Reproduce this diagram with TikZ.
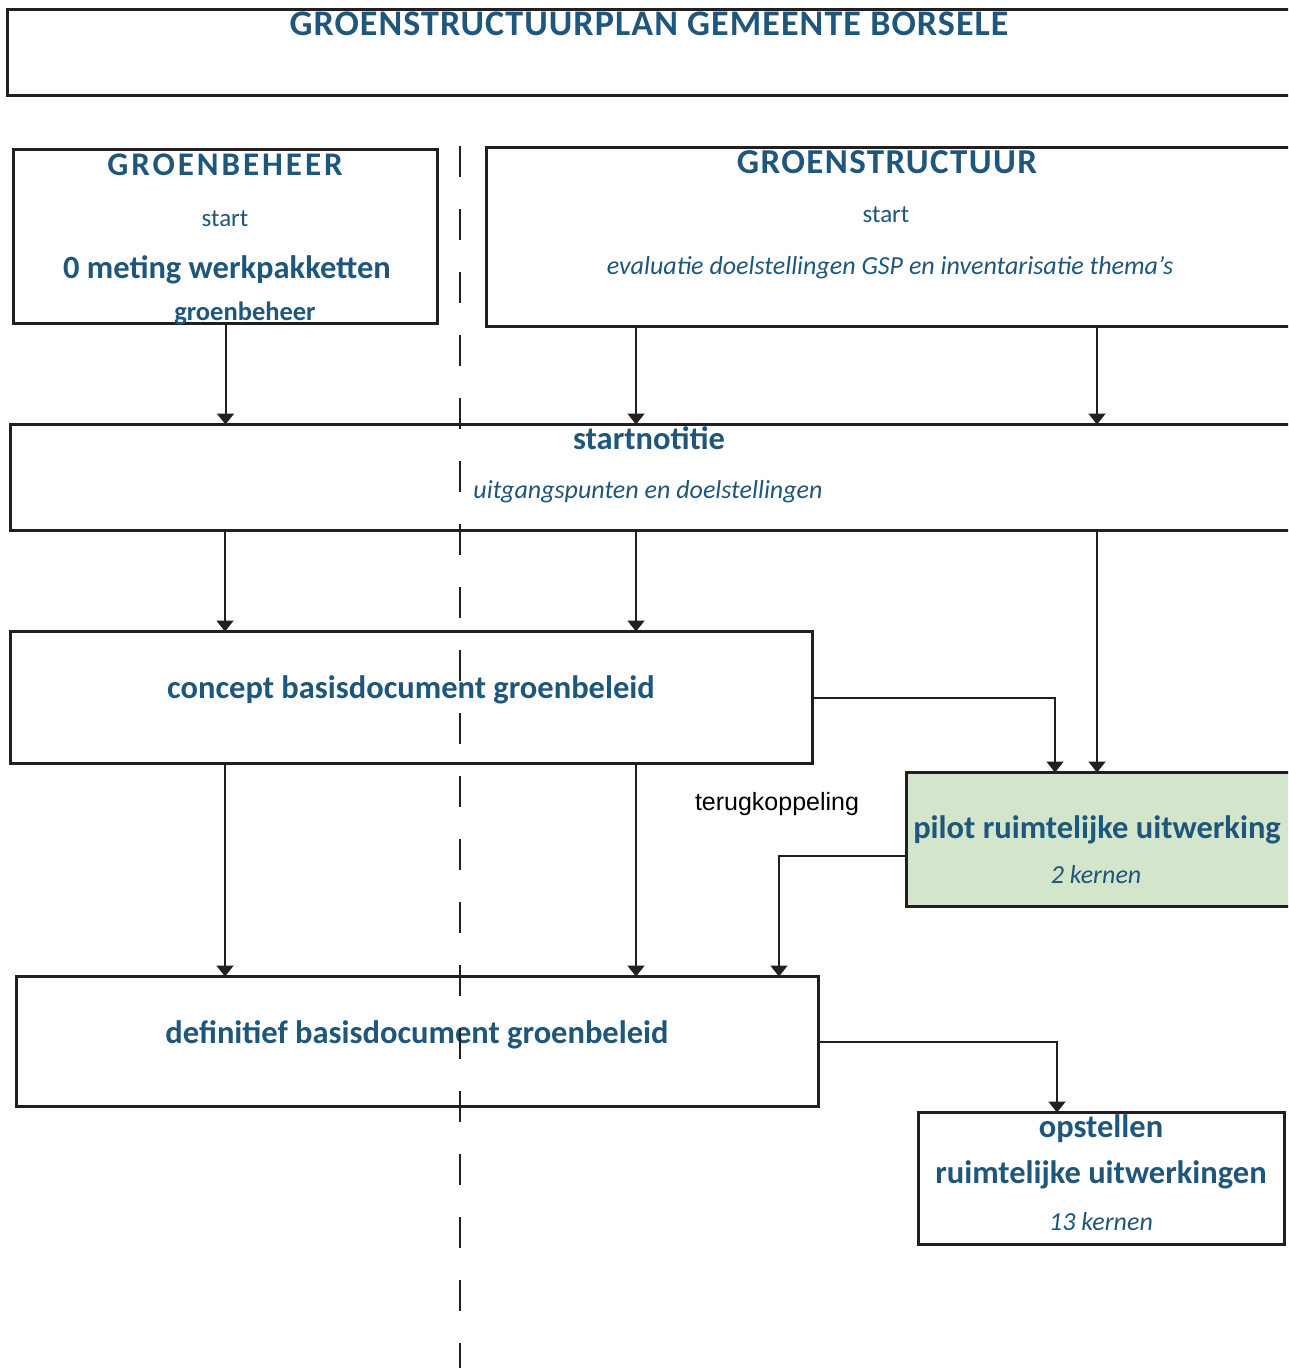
\documentclass[tikz,border=0pt]{standalone}
\usepackage{fontspec}
\setmainfont{Carlito}
\newfontfamily\labfont{Liberation Sans}
\usetikzlibrary{arrows.meta,calc}
\definecolor{gblue}{RGB}{31,86,123}
\definecolor{pgreen}{RGB}{211,229,202}
\definecolor{lineblack}{RGB}{35,31,32}
\newcommand{\fs}[1]{\fontsize{#1bp}{#1bp}\selectfont}
\tikzset{
  box/.style={draw=lineblack, line width=3bp, fill=white, inner sep=0pt, outer sep=0pt},
  arr/.style={draw=lineblack, line width=2bp, -{Triangle[width=17bp,length=11bp]}},
  dashline/.style={draw=lineblack, line width=2bp, dash pattern=on 31bp off 32bp},
  txt/.style={text=gblue, inner sep=0pt, anchor=base},
  bigtxt/.style={txt, font=\bfseries\fs{32.5}},
  ittxt/.style={txt, font=\itshape\fs{26}},
}
\begin{document}
\begin{tikzpicture}[x=1bp,y=-1bp]
\useasboundingbox (0,0) rectangle (1288,1368);
\clip (0,0) rectangle (1288,1368);
\fill[white] (0,0) rectangle (1288,1368);
% boxes
\node[box, minimum width=1297bp, minimum height=86bp] (title) at (656.5,52.5) {};
\node[box, minimum width=424bp, minimum height=174bp] (gb) at (225.5,236.5) {};
\node[box, minimum width=812bp, minimum height=179bp] (gs) at (892.5,237) {};
\node[box, minimum width=1288bp, minimum height=106bp] (sn) at (654.5,477.5) {};
\node[box, minimum width=802bp, minimum height=132bp] (cb) at (411.5,697.5) {};
\node[box, fill=pgreen, minimum width=392bp, minimum height=134bp] (pr) at (1102.5,839.5) {};
\node[box, minimum width=802bp, minimum height=130bp] (db) at (417.5,1041.5) {};
\node[box, minimum width=366bp, minimum height=132bp] (op) at (1101.5,1178.5) {};
% texts
\node[txt, font=\bfseries\fs{36}\addfontfeature{LetterSpace=3}] (ttitle) at (649,36) {GROENSTRUCTUURPLAN GEMEENTE BORSELE};
\node[txt, font=\bfseries\fs{33}\addfontfeature{LetterSpace=9}] (tgb) at (225,176) {GROENBEHEER};
\node[txt, font=\fs{25}] (tgbs) at (225,227) {start};
\node[bigtxt] (tgbm) at (227,278) {0 meting werkpakketten};
\node[txt, font=\bfseries\fs{26.5}] (tgbg) at (245,320) {groenbeheer};
\node[txt, font=\bfseries\fs{35}\addfontfeature{LetterSpace=4}] (tgs) at (887,174) {GROENSTRUCTUUR};
\node[txt, font=\fs{25}] (tgss) at (886,223) {start};
\node[ittxt] (tgse) at (890,274) {evaluatie doelstellingen GSP en inventarisatie thema’s};
\node[bigtxt] (tsn) at (649,449) {startnotitie};
\node[ittxt] (tsnu) at (648,498) {uitgangspunten en doelstellingen};
\node[bigtxt] (tcb) at (411,698) {concept basisdocument groenbeleid};
\node[bigtxt] (tpr) at (1097,838) {pilot ruimtelijke uitwerking};
\node[ittxt] (tprk) at (1096,883) {2 kernen};
\node[bigtxt] (tdb) at (417,1043) {definitief basisdocument groenbeleid};
\node[bigtxt] (top) at (1101,1137) {opstellen};
\node[bigtxt] (topr) at (1101,1183) {ruimtelijke uitwerkingen};
\node[ittxt] (topk) at (1101,1230) {13 kernen};
\node[inner sep=0pt, anchor=base, font=\labfont\fs{25}] (terug) at (777,810) {terugkoppeling};
% column coordinates
\coordinate (c225) at (225,0);
\coordinate (c636) at (636,0);
\coordinate (c1097) at (1097,0);
\coordinate (c1055) at (1055,0);
\coordinate (c779) at (779,0);
\coordinate (c1057) at (1057,0);
\coordinate (prw) at ($(pr.west)+(0,16.5)$);
% connectors
\draw[arr] (gb.south) -- (gb.south |- sn.north);
\draw[arr] (gs.south -| c636) -- (sn.north -| c636);
\draw[arr] (gs.south -| c1097) -- (sn.north -| c1097);
\draw[arr] (sn.south -| c225) -- (cb.north -| c225);
\draw[arr] (sn.south -| c636) -- (cb.north -| c636);
\draw[arr] (sn.south -| c1097) -- (pr.north -| c1097);
\draw[arr] (cb.east) -| (pr.north -| c1055);
\draw[arr] (cb.south -| c225) -- (db.north -| c225);
\draw[arr] (cb.south -| c636) -- (db.north -| c636);
\draw[arr] (prw) -| (db.north -| c779);
\draw[arr] (db.east) -| (op.north -| c1057);
% dashed divider
\coordinate (dtop) at (460,146);
\coordinate (dbot) at (460,1372);
\draw[dashline] (dtop) -- (dbot);
\end{tikzpicture}
\end{document}
